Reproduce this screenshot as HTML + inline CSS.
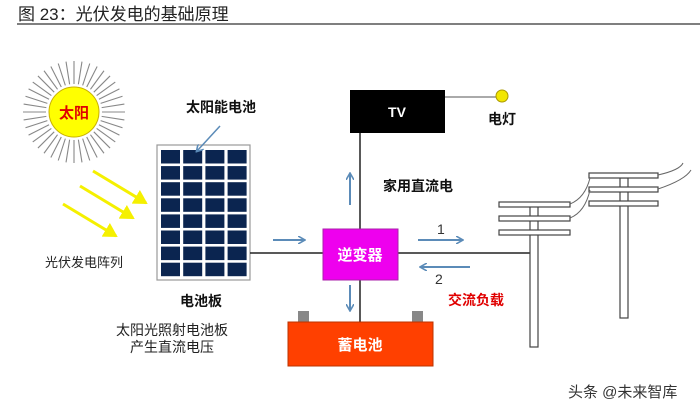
<!DOCTYPE html>
<html><head><meta charset="utf-8"><style>
body{margin:0;background:#fff;}
svg text{font-family:"Liberation Sans","Noto Sans CJK SC",sans-serif;}
</style></head><body>
<svg width="700" height="414" viewBox="0 0 700 414" xmlns="http://www.w3.org/2000/svg">
<defs>
<marker id="b" markerWidth="8" markerHeight="8" refX="6" refY="4" orient="auto" markerUnits="userSpaceOnUse"><path d="M0,0 L7,4 L0,8" fill="none" stroke="#5b8bb8" stroke-width="1.6"/></marker>
<marker id="y" markerWidth="16" markerHeight="16" refX="12" refY="8" orient="auto" markerUnits="userSpaceOnUse"><path d="M0,0 L14,8 L0,16 Z" fill="#f5f000"/></marker>
</defs>
<text x="18" y="20" font-size="17" fill="#222">图 23：光伏发电的基础原理</text>
<line x1="17" y1="24" x2="700" y2="24" stroke="#333" stroke-width="1.3"/>
<g stroke="#888" stroke-width="1.1" id="rays"></g>
<circle cx="74" cy="112" r="25" fill="#ffff00" stroke="#c8b000" stroke-width="1"/>
<text x="74" y="118" font-size="15" font-weight="bold" fill="#e00000" text-anchor="middle">太阳</text>
<g stroke="#f5f000" stroke-width="3">
<line x1="93" y1="171" x2="146" y2="203" marker-end="url(#y)"/>
<line x1="80" y1="186" x2="133" y2="218" marker-end="url(#y)"/>
<line x1="63" y1="204" x2="116" y2="236" marker-end="url(#y)"/>
</g>
<text x="45" y="267" font-size="13" fill="#222">光伏发电阵列</text>
<rect x="157" y="145" width="93" height="135" fill="#fff" stroke="#999" stroke-width="1.2"/>
<g fill="#0b2550" id="cells"></g>
<text x="186" y="112" font-size="14" font-weight="bold" fill="#111">太阳能电池</text>
<line x1="220" y1="126" x2="197" y2="151" stroke="#5b8bb8" stroke-width="1.5" marker-end="url(#b)"/>
<text x="180" y="306" font-size="14" font-weight="bold" fill="#111">电池板</text>
<text x="116" y="335" font-size="14" fill="#222">太阳光照射电池板</text>
<text x="130" y="352" font-size="14" fill="#222">产生直流电压</text>
<line x1="250" y1="253" x2="534" y2="253" stroke="#222" stroke-width="1.5"/>
<line x1="360" y1="133" x2="360" y2="322" stroke="#222" stroke-width="1.5"/>
<line x1="445" y1="97" x2="499" y2="97" stroke="#555" stroke-width="1"/>
<circle cx="502" cy="96" r="6" fill="#f2e600" stroke="#aa9900"/>
<text x="488" y="124" font-size="14" font-weight="bold" fill="#111">电灯</text>
<rect x="350" y="90" width="95" height="43" fill="#000"/>
<text x="397" y="117" font-size="14" font-weight="bold" fill="#fff" text-anchor="middle">TV</text>
<rect x="323" y="229" width="75" height="51" fill="#ee00ee" stroke="#aa22aa"/>
<text x="360" y="260" font-size="15" font-weight="bold" fill="#fff" text-anchor="middle">逆变器</text>
<rect x="298" y="311" width="11" height="12" fill="#888"/>
<rect x="412" y="311" width="11" height="12" fill="#888"/>
<rect x="288" y="322" width="145" height="44" fill="#ff4000" stroke="#bb3300"/>
<text x="360" y="350" font-size="15" font-weight="bold" fill="#fff" text-anchor="middle">蓄电池</text>
<text x="383" y="191" font-size="14" font-weight="bold" fill="#111">家用直流电</text>
<g stroke="#5b8bb8" stroke-width="2" fill="none">
<line x1="273" y1="240" x2="304" y2="240" marker-end="url(#b)"/>
<line x1="350" y1="205" x2="350" y2="174" marker-end="url(#b)"/>
<line x1="350" y1="285" x2="350" y2="310" marker-end="url(#b)"/>
<line x1="418" y1="240" x2="462" y2="240" marker-end="url(#b)"/>
<line x1="470" y1="267" x2="421" y2="267" marker-end="url(#b)"/>
</g>
<text x="437" y="234" font-size="14" fill="#333">1</text>
<text x="435" y="284" font-size="14" fill="#333">2</text>
<text x="448" y="305" font-size="14" font-weight="bold" fill="#e00000">交流负载</text>
<g fill="#fff" stroke="#444" stroke-width="1.2">
<rect x="530" y="205" width="8" height="142"/>
<rect x="499" y="202" width="71" height="5"/>
<rect x="499" y="216" width="71" height="5"/>
<rect x="499" y="230" width="71" height="5"/>
<rect x="620" y="178" width="8" height="140"/>
<rect x="589" y="173" width="69" height="5"/>
<rect x="589" y="187" width="69" height="5"/>
<rect x="589" y="201" width="69" height="5"/>
</g>
<g fill="none" stroke="#666" stroke-width="1">
<path d="M570,204 Q585,198 590,178"/>
<path d="M570,218 Q585,212 590,190"/>
<path d="M658,175 Q680,170 683,163"/>
<path d="M658,189 Q685,180 691,170"/>
</g>
<text x="568" y="397" font-size="15" fill="#333">头条 @未来智库</text>
</svg>
<script>
(function(){var ns='http://www.w3.org/2000/svg';var g=document.getElementById('cells');
for(var r=0;r<8;r++)for(var c=0;c<4;c++){var e=document.createElementNS(ns,'rect');
e.setAttribute('x',161+c*22.2);e.setAttribute('y',150+r*16.1);e.setAttribute('width',19);e.setAttribute('height',13.5);g.appendChild(e);}
var rg=document.getElementById('rays');
for(var i=0;i<40;i++){var a=i*Math.PI*2/40;var l=document.createElementNS(ns,'line');
l.setAttribute('x1',74+28*Math.cos(a));l.setAttribute('y1',112+28*Math.sin(a));
l.setAttribute('x2',74+51*Math.cos(a));l.setAttribute('y2',112+51*Math.sin(a));rg.appendChild(l);}})();
</script>
</body></html>
